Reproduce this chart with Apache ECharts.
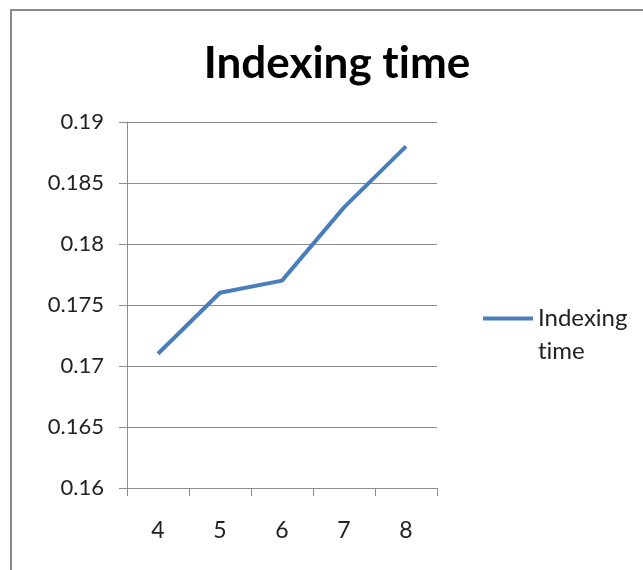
<!DOCTYPE html>
<html>
<head>
<meta charset="utf-8">
<script src="https://cdn.jsdelivr.net/npm/echarts@6/dist/echarts.min.js"></script>
<style>
  html, body { margin: 0; padding: 0; background: #fff; }
  #chart { width: 643px; height: 570px; }
</style>
</head>
<body>
<div id="chart"></div>
<script>
const categories = ['4', '5', '6', '7', '8'];
const indexingTime = [0.171, 0.176, 0.177, 0.183, 0.188];
const seriesName = 'Indexing time';

const fontFam = 'Lato, "Open Sans", sans-serif';
const gridColor = '#8c8c8c';

const myChart = echarts.init(document.getElementById('chart'));
myChart.setOption({
  animation: false,
  graphic: [{
    type: 'rect',
    shape: { x: 11, y: 10, width: 640, height: 570 },
    style: { fill: 'none', stroke: '#8a8a8a', lineWidth: 2 },
    silent: true
  }],
  title: {
    // zero-width non-joiner keeps Lato from drawing the "ti" ligature
    text: 'Indexing t\u200Cime',
    left: 332,
    top: 37,
    textAlign: 'center',
    textStyle: {
      fontFamily: fontFam,
      fontSize: 44,
      fontWeight: 'bold',
      color: '#000'
    }
  },
  grid: {
    left: 127,
    right: 206,
    top: 122,
    bottom: 82
  },
  legend: {
    data: [seriesName],
    left: 478,
    top: 264,
    orient: 'vertical',
    icon: 'rect',
    itemWidth: 50,
    itemHeight: 4,
    formatter: () => ' \nIndexing\nt\u200Cime',
    textStyle: {
      fontFamily: fontFam,
      fontSize: 24,
      color: '#222',
      lineHeight: 33
    }
  },
  xAxis: {
    type: 'category',
    data: categories,
    boundaryGap: true,
    axisLine: { lineStyle: { color: gridColor, width: 1 } },
    axisTick: { show: true, length: 8, lineStyle: { color: gridColor } },
    axisLabel: {
      margin: 31,
      fontFamily: fontFam,
      fontSize: 23,
      color: '#222'
    },
    splitLine: { show: false }
  },
  yAxis: {
    type: 'value',
    min: 0.16,
    max: 0.19,
    interval: 0.005,
    axisLine: { show: true, lineStyle: { color: gridColor, width: 1 } },
    axisTick: { show: true, length: 8, lineStyle: { color: gridColor } },
    axisLabel: {
      margin: 23,
      fontFamily: fontFam,
      fontSize: 22,
      color: '#222',
      formatter: function(value) {
        return String(+value.toFixed(3));
      }
    },
    splitLine: { show: true, lineStyle: { color: gridColor, width: 1 } }
  },
  series: [{
    name: seriesName,
    type: 'line',
    data: indexingTime,
    symbol: 'none',
    lineStyle: { color: '#4a7ebb', width: 4 },
    itemStyle: { color: '#4a7ebb' }
  }]
});
</script>
</body>
</html>
